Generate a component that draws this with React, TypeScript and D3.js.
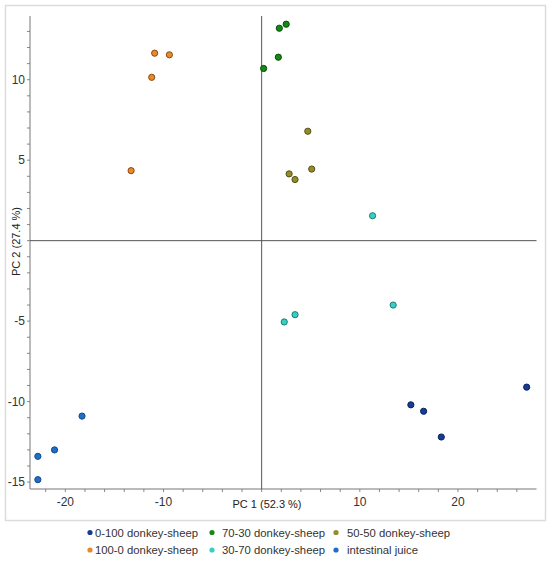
import React, { useEffect, useRef } from "react";
import * as d3 from "d3";

// PCA scores, one array per sample group
const donkeySheep0_100: [number, number][] = [
  [15.2, -10.2], [16.5, -10.6], [18.3, -12.2], [27.0, -9.1]
];
const donkeySheep70_30: [number, number][] = [
  [1.8, 13.2], [2.5, 13.45], [1.7, 11.4], [0.2, 10.7]
];
const donkeySheep50_50: [number, number][] = [
  [4.7, 6.8], [2.8, 4.15], [3.4, 3.8], [5.1, 4.45]
];
const donkeySheep100_0: [number, number][] = [
  [-10.9, 11.65], [-9.4, 11.55], [-11.2, 10.15], [-13.3, 4.35]
];
const donkeySheep30_70: [number, number][] = [
  [11.3, 1.55], [2.3, -5.05], [3.4, -4.6], [13.4, -4.0]
];
const intestinalJuice: [number, number][] = [
  [-18.3, -10.9], [-21.1, -13.0], [-22.8, -13.4], [-22.8, -14.85]
];

const groupNames = [
  "0-100 donkey-sheep",
  "70-30 donkey-sheep",
  "50-50 donkey-sheep",
  "100-0 donkey-sheep",
  "30-70 donkey-sheep",
  "intestinal juice"
];
const groupData = [
  donkeySheep0_100,
  donkeySheep70_30,
  donkeySheep50_50,
  donkeySheep100_0,
  donkeySheep30_70,
  intestinalJuice
];
const fills = ["#163d94", "#148a14", "#948c2c", "#e8892c", "#35d0c4", "#1f6fc6"];
const strokes = ["#0c2260", "#0a4d0a", "#545010", "#8c4a10", "#1b7d74", "#124a8a"];

const xMajor = [-20, -10, 10, 20];
const yMajor = [-15, -10, -5, 5, 10];

const W = 550;
const H = 562;
const FONT = "'Liberation Sans', Arial, sans-serif";

const App = () => {
  const ref = useRef<SVGSVGElement>(null);

  useEffect(() => {
    document.body.style.margin = "0";
    if (!ref.current) return;
    const svg = d3.select(ref.current);
    svg.selectAll("*").remove();

    const x = d3.scaleLinear().domain([-23.6, 28]).range([30, 536.5]);
    const y = d3.scaleLinear().domain([-15.43, 13.96]).range([489, 16]);

    // outer frame
    svg.append("rect")
      .attr("x", 5.5).attr("y", 5.5)
      .attr("width", 540).attr("height", 515)
      .attr("fill", "none")
      .attr("stroke", "#dcdcdc")
      .attr("stroke-width", 1.5);

    const g = svg.append("g");

    // minor ticks
    const xMinor = d3.range(-22, 28, 2);
    g.selectAll(".xminor").data(xMinor).join("line")
      .attr("x1", (d) => x(d)).attr("x2", (d) => x(d))
      .attr("y1", y.range()[0]).attr("y2", y.range()[0] + 3)
      .attr("stroke", "#888");
    const yMinor = d3.range(-15, 14, 1);
    g.selectAll(".yminor").data(yMinor).join("line")
      .attr("x1", x.range()[0] - 3).attr("x2", x.range()[0])
      .attr("y1", (d) => y(d)).attr("y2", (d) => y(d))
      .attr("stroke", "#888");

    // axis lines
    g.append("line")
      .attr("x1", x.range()[0]).attr("x2", x.range()[1])
      .attr("y1", y.range()[0]).attr("y2", y.range()[0])
      .attr("stroke", "#777");
    g.append("line")
      .attr("x1", x.range()[0]).attr("x2", x.range()[0])
      .attr("y1", y.range()[0]).attr("y2", y.range()[1])
      .attr("stroke", "#777");

    // zero lines
    g.append("line")
      .attr("x1", x(0)).attr("x2", x(0))
      .attr("y1", y.range()[0]).attr("y2", y.range()[1])
      .attr("stroke", "#555");
    g.append("line")
      .attr("x1", x.range()[0]).attr("x2", x.range()[1])
      .attr("y1", y(0)).attr("y2", y(0))
      .attr("stroke", "#555");

    // tick labels
    g.selectAll(".xlab").data(xMajor).join("text")
      .attr("x", (d) => x(d)).attr("y", 506)
      .attr("text-anchor", "middle")
      .attr("font-family", FONT).attr("font-size", 12).attr("fill", "#333")
      .text((d) => d);
    g.selectAll(".ylab").data(yMajor).join("text")
      .attr("x", 25).attr("y", (d) => y(d) + 4)
      .attr("text-anchor", "end")
      .attr("font-family", FONT).attr("font-size", 12).attr("fill", "#333")
      .text((d) => d);

    // axis titles
    g.append("text")
      .attr("x", 267).attr("y", 508)
      .attr("text-anchor", "middle")
      .attr("font-family", FONT).attr("font-size", 11).attr("fill", "#222")
      .text("PC 1 (52.3 %)");
    g.append("text")
      .attr("transform", "translate(20,241.5) rotate(-90)")
      .attr("text-anchor", "middle")
      .attr("font-family", FONT).attr("font-size", 11).attr("fill", "#222")
      .text("PC 2 (27.4 %)");

    // points
    groupData.forEach((pts, i) => {
      g.append("g").selectAll("circle").data(pts).join("circle")
        .attr("cx", (d) => x(d[0]))
        .attr("cy", (d) => y(d[1]))
        .attr("r", 3.1)
        .attr("fill", fills[i])
        .attr("stroke", strokes[i])
        .attr("stroke-width", 1);
    });

    // legend
    const colX = [90, 212, 336];
    const textX = [95, 222, 347];
    const rowY = [532.5, 550];
    const leg = svg.append("g");
    groupNames.forEach((name, i) => {
      const c = i % 3;
      const r = Math.floor(i / 3);
      leg.append("circle")
        .attr("cx", colX[c]).attr("cy", rowY[r])
        .attr("r", 2.6)
        .attr("fill", fills[i]);
      leg.append("text")
        .attr("x", textX[c]).attr("y", rowY[r] + 4)
        .attr("font-family", FONT).attr("font-size", 11.3).attr("fill", "#333")
        .text(name);
    });
  }, []);

  return <svg ref={ref} width={W} height={H} style={{ display: "block" }} />;
};

export default App;
